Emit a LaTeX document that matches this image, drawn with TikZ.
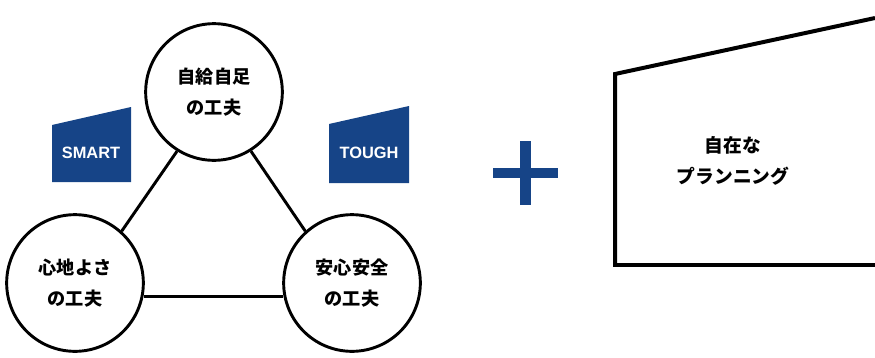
\documentclass[tikz,border=0pt]{standalone}
\usepackage{fontspec}
\setmainfont{Liberation Sans}
\newfontfamily\jp{Noto Sans CJK JP}
\usetikzlibrary{positioning, calc}
\definecolor{navy}{RGB}{22,68,135}

\begin{document}
\begin{tikzpicture}[x=0.03cm,y=-0.03cm,line width=2.4pt,semithick]
  \tikzstyle{idea}=[circle,draw=black,line width=2.5pt,fill=white,minimum size=4.1cm,
    align=center,font=\jp\bfseries\fontsize{15.5}{27}\selectfont]
  \tikzstyle{tag}=[text=white,font=\bfseries\fontsize{14}{14}\selectfont]
  \useasboundingbox (0,0) rectangle (875,357);

  % three circles
  \node[idea] (self) at (214,92) {自給自足\\の工夫};
  \node[idea] (comfort) at (75,283) {心地よさ\\の工夫};
  \node[idea] (safe) at (352,283) {安心安全\\の工夫};

  \draw[line width=2.5pt] (comfort.48) -- (self.238);
  \draw[line width=2.5pt] (self.302) -- (safe.132);
  \draw[line width=2.5pt] (comfort.-11) -- (safe.191);

  % labels
  \fill[navy] (52,125) -- (131,107) -- (131,182) -- (52,182) -- cycle;
  \node[tag] (smart) at (91,153) {SMART};
  \fill[navy] (329,124) -- (409,106) -- (409,183) -- (329,183) -- cycle;
  \node[tag] (tough) at (369,153) {TOUGH};

  % plus
  \fill[navy] (520,141) rectangle (531,205);
  \fill[navy] (493,168) rectangle (558,178);

  % plan
  \draw[line width=3.4pt] (875,18) -- (615,74) -- (615,265) -- (875,265);
  \node[font=\jp\bfseries\fontsize{16}{26}\selectfont,align=center] (plan) at (733,161) {自在な\\プランニング};
\end{tikzpicture}
\end{document}
